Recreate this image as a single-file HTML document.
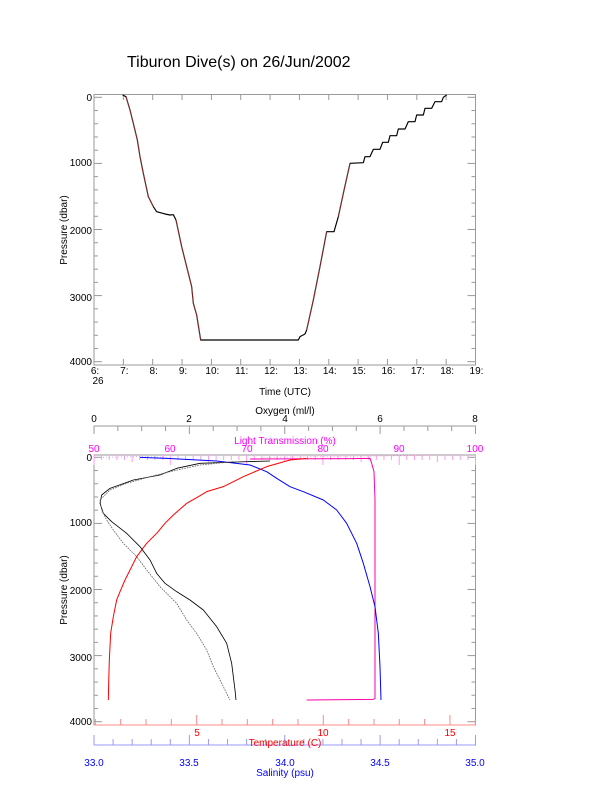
<!DOCTYPE html>
<html><head><meta charset="utf-8"><style>
html,body{margin:0;padding:0;background:#fff}
svg{display:block}
text{font-family:"Liberation Sans",sans-serif}
</style></head><body>
<svg id="s" width="612" height="785" xmlns="http://www.w3.org/2000/svg">
<rect width="612" height="785" fill="#fff"/>
<text x="127" y="67" font-size="16" fill="#000">Tiburon Dive(s) on 26/Jun/2002</text>

<!-- TOP PLOT -->
<rect x="94" y="94.5" width="381.5" height="270.5" fill="none" stroke="#999" stroke-width="1"/>
<g id="topt"></g>
<g font-size="10" fill="#000" text-anchor="end">
<text x="92" y="101">0</text><text x="92" y="166">1000</text><text x="92" y="234">2000</text><text x="92" y="301">3000</text><text x="92" y="365">4000</text>
</g>
<g font-size="10" fill="#000" text-anchor="middle" id="toplab"></g>
<text x="98" y="384" font-size="10" text-anchor="middle">26</text>
<text x="285" y="395" font-size="10" text-anchor="middle">Time (UTC)</text>
<text transform="translate(67,230) rotate(-90)" font-size="10" text-anchor="middle">Pressure (dbar)</text>
<g transform="translate(50,80) scale(0.33333)" fill="none" stroke-linejoin="round">
<polyline stroke="#000" stroke-width="3.5" points="218,45 228,50 240,90 250,130 262,180 270,230 280,280 295,350 310,380 320,395 345,402 360,405 370,404 378,420 395,500 410,560 425,620 430,670 440,705 452,780 745,780 750,770 765,762 770,750 790,660 810,560 830,455 852,455 865,410 880,340 900,250 940,248 945,230 960,230 970,208 990,208 998,187 1015,187 1020,167 1040,167 1045,147 1065,147 1075,125 1095,125 1100,105 1120,105 1125,85 1145,85 1155,65 1175,65 1180,52 1190,45"/>
<polyline stroke="#b03030" stroke-width="2" points="228,50 240,90 250,130 262,180 270,230 280,280 295,350 310,380"/>
<polyline stroke="#b03030" stroke-width="2" points="378,420 395,500 410,560 425,620 430,670 440,705 452,780"/>
<polyline stroke="#b03030" stroke-width="2" points="770,750 790,660 810,560 830,455"/>
<polyline stroke="#b03030" stroke-width="2" points="865,410 880,340 900,250"/>
</g>

<!-- BOTTOM PLOT -->
<rect x="94" y="455" width="381.5" height="270" fill="none" stroke="#999" stroke-width="1"/>
<g id="bott"></g>
<line x1="94" y1="426" x2="476" y2="426" stroke="#999"/>
<line x1="94" y1="745" x2="476" y2="745" stroke="#99f"/>
<line x1="94" y1="725" x2="476" y2="725" stroke="#f88"/>
<g font-size="10" text-anchor="middle">
<text x="94" y="422">0</text><text x="189" y="422">2</text><text x="285" y="422">4</text><text x="380" y="422">6</text><text x="475" y="422">8</text>
<text x="285" y="414" font-size="10">Oxygen (ml/l)</text>
<g fill="#f0f">
<text x="94" y="452">50</text><text x="170" y="452">60</text><text x="247" y="452">70</text><text x="323" y="452">80</text><text x="399" y="452">90</text><text x="475" y="452">100</text>
<text x="285" y="444">Light Transmission (%)</text></g>
<g fill="#f00">
<text x="197" y="736">5</text><text x="323" y="736">10</text><text x="450" y="736">15</text>
<text x="285" y="746">Temperature (C)</text></g>
<g fill="#00f">
<text x="94" y="766">33.0</text><text x="189" y="766">33.5</text><text x="285" y="766">34.0</text><text x="380" y="766">34.5</text><text x="475" y="766">35.0</text>
<text x="285" y="776">Salinity (psu)</text></g>
</g>
<g font-size="10" text-anchor="end">
<text x="92" y="461">0</text><text x="92" y="526">1000</text><text x="92" y="594">2000</text><text x="92" y="661">3000</text><text x="92" y="725">4000</text>
</g>
<text transform="translate(67,590) rotate(-90)" font-size="10" text-anchor="middle">Pressure (dbar)</text>
<g transform="translate(50,400) scale(0.33333)" fill="none" stroke-linejoin="round">
<polyline stroke="#f0a" stroke-width="3" points="600,177 900,176 960,175 965,190 972,215 975,300 975,895 970,898 770,900"/>
<polyline stroke="#f9c" stroke-width="2" stroke-dasharray="4 6" points="640,172 800,170 1000,168 1160,166"/>
<polyline stroke="#99f" stroke-width="2" stroke-dasharray="3 6" points="150,172 270,170 350,172"/>
<polyline stroke="#00f" stroke-width="3" points="270,172 350,175 500,183 600,195 650,215 680,235 720,260 760,275 820,300 860,330 890,370 920,430 940,490 960,560 975,620 985,700 990,800 993,900"/>
<polyline stroke="#f00" stroke-width="3" points="770,175 720,180 650,200 580,230 520,260 470,275 445,290 410,310 370,345 345,370 320,400 290,430 260,470 240,510 225,540 210,575 200,600 190,650 182,700 178,780 176,850 175,900"/>
<polyline stroke="#000" stroke-width="2.5" points="660,183 560,186 450,190 380,205 330,225 250,240 180,265 155,285 150,310 160,340 185,365 230,400 270,440 300,480 320,520 345,550 380,575 420,600 460,630 500,680 530,730 545,790 550,830 555,870 558,900"/>
<polyline stroke="#666" stroke-width="2.5" stroke-dasharray="5 3" points="550,185 450,195 360,215 300,230 230,250 180,270 150,300 155,330 170,360 190,390 220,430 260,470 290,510 330,560 350,580 380,610 410,660 440,700 470,750 490,800 510,840 530,880 540,900"/>
</g>
</svg>
<script>
var ns="http://www.w3.org/2000/svg";
function L(g,x1,y1,x2,y2,c){var l=document.createElementNS(ns,"line");l.setAttribute("x1",x1);l.setAttribute("y1",y1);l.setAttribute("x2",x2);l.setAttribute("y2",y2);l.setAttribute("stroke",c);l.setAttribute("stroke-width",1);document.getElementById(g).appendChild(l);}
function T(g,x,y,s){var t=document.createElementNS(ns,"text");t.setAttribute("x",x);t.setAttribute("y",y);t.textContent=s;document.getElementById(g).appendChild(t);}
for(var p=0;p<=4000;p+=200){var y=97.3+p*0.06610;var w=(p%1000==0)?8:4;L("topt",94,y,94+w,y,"#999");L("topt",475.5,y,475.5-w,y,"#999");}
for(var h=6;h<=19;h++){var x=94+(h-6)*381.5/13;L("topt",x,365,x,359,"#999");L("topt",x,94.5,x,100,"#999");T("toplab",x+1,374,h+":");}
for(var p=0;p<=4000;p+=200){var y=457.3+p*0.0661;var w=(p%1000==0)?8:4;L("bott",94,y,94+w,y,"#999");L("bott",475.5,y,475.5-w,y,"#999");}
for(var o=0;o<=8.001;o+=0.5){var x=94+o*381.5/8;L("bott",x,426,x,(o%2==0)?434:431,"#999");}
for(var lt=50;lt<=100;lt++){var x=94+(lt-50)*381.5/50;L("bott",x,455,x,(lt%10==0)?465:(lt%5==0?462:460),"#f9f");}
for(var t=1;t<=16;t++){var x=70+t*25.33;if(x<94||x>476)continue;L("bott",x,725,x,(t%5==0)?715:719,"#f88");}
for(var s=0;s<=20;s++){var x=94+s*381.5/20;L("bott",x,745,x,(s%5==0)?735:739,"#99f");}
</script>
</body></html>
